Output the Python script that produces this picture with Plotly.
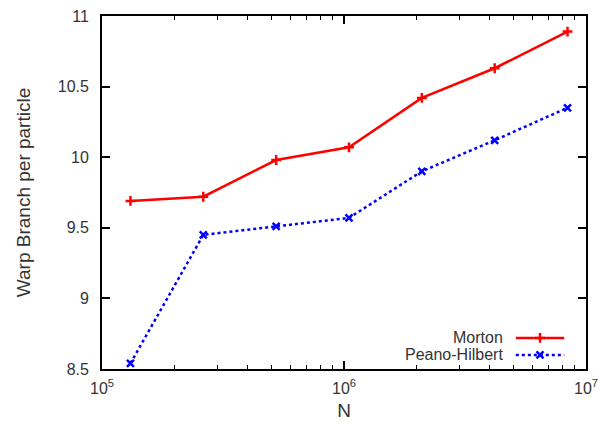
import plotly.graph_objects as go

N = [131072, 262144, 524288, 1048576, 2097152, 4194304, 8388608]
morton = [9.69, 9.72, 9.98, 10.07, 10.42, 10.63, 10.89]
peano = [8.54, 9.45, 9.51, 9.57, 9.90, 10.12, 10.35]
series_names = ["Morton", "Peano-Hilbert"]
x_tickvals = [1e5, 1e6, 1e7]
x_ticktext = ["10<sup>5</sup>", "10<sup>6</sup>", "10<sup>7</sup>"]
x_minor = [2e5, 3e5, 4e5, 5e5, 6e5, 7e5, 8e5, 9e5,
           2e6, 3e6, 4e6, 5e6, 6e6, 7e6, 8e6, 9e6]
y_tickvals = [8.5, 9, 9.5, 10, 10.5, 11]
y_ticktext = ["8.5", "9", "9.5", "10", "10.5", "11"]

RED = "#ff0000"
BLUE = "#0000ff"
FS = 16
FONT = dict(family="Liberation Sans, Arial, sans-serif", size=FS, color="#333333")

fig = go.Figure()
fig.add_trace(go.Scatter(x=N, y=morton, mode="lines+markers", name=series_names[0],
                         line=dict(color=RED, width=2.5),
                         marker=dict(symbol="cross-thin", size=7, line=dict(color=RED, width=2.5)),
                         showlegend=False))
fig.add_trace(go.Scatter(x=N, y=peano, mode="lines+markers", name=series_names[1],
                         line=dict(color=BLUE, width=2.5, dash="dot"),
                         marker=dict(symbol="x-thin", size=7, line=dict(color=BLUE, width=2.5)),
                         showlegend=False))

# invisible helper traces so that the minor-tick overlay axes get drawn
for ax in ("x2", "x4"):
    fig.add_trace(go.Scatter(x=N, y=morton, xaxis=ax, yaxis="y", mode="lines",
                             line=dict(width=0, color="rgba(0,0,0,0)"),
                             showlegend=False, hoverinfo="skip"))

# legend drawn on an overlay 0..1 axis pair
leg_y = [0.088, 0.040]
colors = [RED, BLUE]
dashes = ["solid", "dot"]
symbols = ["cross-thin", "x-thin"]
for i in range(2):
    fig.add_trace(go.Scatter(x=[0.855, 0.955], y=[leg_y[i], leg_y[i]], xaxis="x3", yaxis="y3",
                             mode="lines", line=dict(color=colors[i], width=2.5, dash=dashes[i]),
                             showlegend=False, hoverinfo="skip"))
    fig.add_trace(go.Scatter(x=[0.905], y=[leg_y[i]], xaxis="x3", yaxis="y3",
                             mode="markers",
                             marker=dict(symbol=symbols[i], size=7, line=dict(color=colors[i], width=2.5)),
                             showlegend=False, hoverinfo="skip"))
    fig.add_annotation(x=0.833, y=leg_y[i], xref="x3", yref="y3", text=series_names[i],
                       showarrow=False, xanchor="right", yanchor="middle", font=FONT)

minor_axis = dict(type="log", range=[5, 7], tickmode="array", tickvals=x_minor,
                  ticks="inside", ticklen=4, tickcolor="black", tickwidth=1.2,
                  showticklabels=False, showline=False, showgrid=False, zeroline=False,
                  overlaying="x", anchor="y", fixedrange=True, automargin=False)

fig.update_layout(
    width=598, height=428,
    margin=dict(l=102, r=12, t=16, b=59),
    paper_bgcolor="white", plot_bgcolor="white",
    font=FONT,
    xaxis=dict(type="log", range=[5, 7], tickmode="array", tickvals=x_tickvals, ticktext=x_ticktext,
               ticks="inside", ticklen=8, tickcolor="black", tickwidth=1.5,
               showline=True, linecolor="black", linewidth=1.8, mirror="ticks",
               showgrid=False, zeroline=False, ticklabelstandoff=4,
               ticklabeloverflow="allow",
               tickfont=dict(size=FS), automargin=False,
               title=dict(text="N", standoff=8)),
    yaxis=dict(range=[8.5, 11], tickmode="array", tickvals=y_tickvals, ticktext=y_ticktext,
               ticks="inside", ticklen=8, tickcolor="black", tickwidth=1.5,
               showline=True, linecolor="black", linewidth=1.8, mirror="ticks",
               showgrid=False, zeroline=False, ticklabelstandoff=8,
               ticklabeloverflow="allow",
               tickfont=dict(size=FS), automargin=False,
               title=dict(text="Warp Branch per particle", standoff=22)),
    xaxis2=dict(minor_axis, side="bottom"),
    xaxis4=dict(minor_axis, side="top"),
    xaxis3=dict(range=[0, 1], overlaying="x", anchor="y3", visible=False, fixedrange=True),
    yaxis3=dict(range=[0, 1], overlaying="y", anchor="x3", visible=False, fixedrange=True),
)

fig.write_html("out.html")
